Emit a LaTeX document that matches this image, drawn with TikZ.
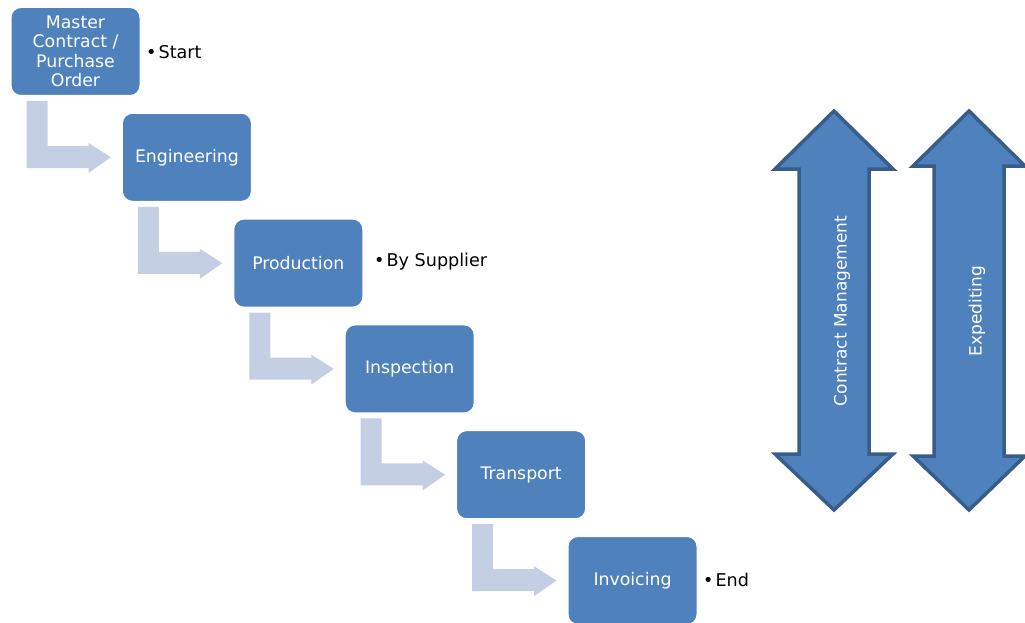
\documentclass[tikz,border=0pt]{standalone}
\usepackage{fontspec}
\setmainfont{DejaVu Sans}
\usetikzlibrary{calc}
\definecolor{boxblue}{HTML}{4F81BD}
\definecolor{bentgray}{HTML}{C5CFE3}
\definecolor{darkedge}{HTML}{385D8A}
\begin{document}
\begin{tikzpicture}[x=1pt,y=-1pt,
  stepbox/.style={draw=white, line width=1pt, fill=boxblue, rounded corners=10pt,
    minimum width=129pt, minimum height=88pt, text=white,
    font=\fontsize{17.3}{19.5}\selectfont, align=center, inner sep=2pt},
  note/.style={anchor=west, font=\fontsize{17.6}{20}\selectfont, text=black, inner sep=0pt},
  bent/.style={fill=bentgray, draw=none},
  dbl/.style={fill=boxblue, draw=darkedge, line width=3.5pt, line join=miter},
  dbltext/.style={rotate=90, text=white, font=\fontsize{17}{20}\selectfont, inner sep=0pt}]
\useasboundingbox (0,0) rectangle (1025,623);

% step boxes
\node[stepbox] (b1) at (75.5,51.5) {Master\\Contract /\\Purchase\\Order};
\node[stepbox] (b2) at (186.9,157.3) {Engineering};
\node[stepbox] (b3) at (298.3,263.1) {Production};
\node[stepbox] (b4) at (409.7,368.9) {Inspection};
\node[stepbox] (b5) at (521.1,474.7) {Transport};
\node[stepbox] (b6) at (632.5,580.5) {Invoicing};

% bent arrows
\foreach \a/\b in {b1/b2,b2/b3,b3/b4,b4/b5,b5/b6}{
  \fill[bent] ($(\a.south west)+(16,5)$) -- ($(\a.south west)+(37,5)$)
    -- ($(\a.south west)+(37,50)$) -- ($(\a.south west)+(78,50)$)
    -- ($(\a.south west)+(78,47)$) -- ($(\b.west)+(-11,0)$)
    -- ($(\a.south west)+(78,77)$) -- ($(\a.south west)+(78,72)$)
    -- ($(\a.south west)+(16,72)$) -- cycle;
}

% notes
\node[note] (n1) at (146,52) {•\hspace{2pt}Start};
\node[note] (n2) at (374,262) {•\hspace{2pt}By Supplier};
\node[note] (n3) at (703,580) {•\hspace{2pt}End};

% double arrows
\draw[dbl] (834,111) -- (893,169) -- (869,169) -- (869,454) -- (893,454)
  -- (834,510) -- (775,454) -- (799,454) -- (799,169) -- (775,169) -- cycle;
\draw[dbl] (969,111) -- (1025,166) -- (1004,166) -- (1004,456) -- (1025,456)
  -- (969,510) -- (913,456) -- (934,456) -- (934,166) -- (913,166) -- cycle;
\node[dbltext] (cm) at (842,311) {Contract Management};
\node[dbltext] (ex) at (977,311) {Expediting};
\end{tikzpicture}
\end{document}
